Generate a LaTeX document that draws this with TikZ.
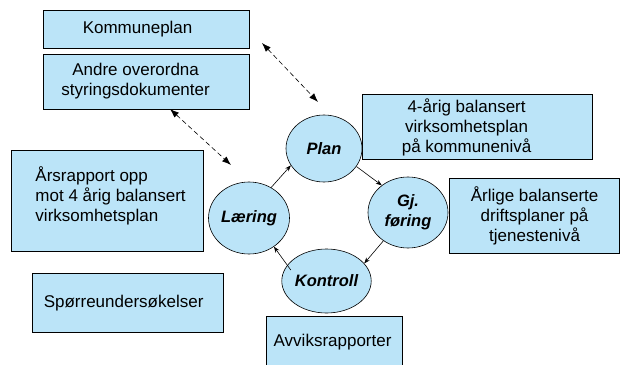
\documentclass[tikz,border=0pt]{standalone}
\usepackage{fontspec}
\setmainfont{Liberation Sans}
\usetikzlibrary{shapes.geometric,arrows.meta,positioning}
\definecolor{boxblue}{RGB}{187,228,248}

\begin{document}
\begin{tikzpicture}[x=1pt, y=-1pt]
\tikzset{BoxStyle/.style = {draw, fill=boxblue, line width=1.2pt, inner sep=0pt, anchor=north west}}
\tikzset{TextStyle/.style = {font=\fontsize{17}{20}\selectfont, align=center, inner sep=0pt}}
\tikzset{PhaseStyle/.style = {ellipse, draw, fill=boxblue, line width=0.6pt, inner sep=0pt, font=\fontsize{16.5}{20}\selectfont\bfseries\itshape, align=center}}
\tikzset{CycleEdge/.style = {-{Stealth[length=6pt, width=4.5pt]}, line width=0.6pt}}
\tikzset{LinkEdge/.style = {{Latex[length=9pt, width=6.5pt]}-{Latex[length=9pt, width=6.5pt]}, dash pattern=on 5pt off 3pt, line width=0.6pt}}
  \useasboundingbox (0,0) rectangle (620,364);

  % documents
  \node[BoxStyle, minimum width=206pt, minimum height=38pt,
    label={[TextStyle, xshift=-9pt]center:Kommuneplan}] (kplan) at (43,10) {};
  \node[BoxStyle, minimum width=206pt, minimum height=55pt,
    label={[TextStyle, xshift=-11pt, yshift=1pt]center:Andre overordna\\styringsdokumenter}] (andre) at (43,54) {};
  \node[BoxStyle, minimum width=192pt, minimum height=101pt,
    label={[TextStyle, align=left, xshift=3pt, yshift=5.5pt]center:Årsrapport opp\\mot 4 årig balansert\\virksomhetsplan}] (aars) at (11,150) {};
  \node[BoxStyle, minimum width=191pt, minimum height=59pt,
    label={[TextStyle, xshift=-4.5pt]center:Spørreundersøkelser}] (sporre) at (32,273) {};
  \node[BoxStyle, minimum width=136pt, minimum height=50pt,
    label={[TextStyle, xshift=-2pt]center:Avviksrapporter}] (avvik) at (266,316) {};
  \node[BoxStyle, minimum width=230pt, minimum height=65pt,
    label={[TextStyle, xshift=-11pt]center:4-årig balansert\\virksomhetsplan\\på kommunenivå}] (plan4) at (362,94) {};
  \node[BoxStyle, minimum width=170pt, minimum height=75pt,
    label={[TextStyle]center:Årlige balanserte\\driftsplaner på\\tjenestenivå}] (aarlige) at (449,178) {};

  % cycle
  \node[PhaseStyle, minimum width=76pt, minimum height=67pt] (plan) at (324,148.5) {Plan};
  \node[PhaseStyle, minimum width=80pt, minimum height=71pt] (gj) at (408,212.5) {Gj.\\føring};
  \node[PhaseStyle, minimum width=81pt, minimum height=72pt] (laering) at (249,218) {Læring};
  \node[PhaseStyle, minimum width=81pt, minimum height=64pt] (kontroll) at (326.5,281) {Kontroll};

  \draw[CycleEdge] (laering.54) -- (plan.207);
  \draw[CycleEdge] (plan.331) -- (gj.134);
  \draw[CycleEdge] (gj.229) -- (kontroll.25);
  \draw[CycleEdge, shorten <=-6pt] (kontroll.158) -- (laering.311);

  \coordinate (d1a) at (262,43);
  \coordinate (d1b) at (318,102);
  \coordinate (d2a) at (170,109);
  \coordinate (d2b) at (231,165);
  \draw[LinkEdge] (d1a) -- (d1b);
  \draw[LinkEdge] (d2a) -- (d2b);
\end{tikzpicture}
\end{document}
